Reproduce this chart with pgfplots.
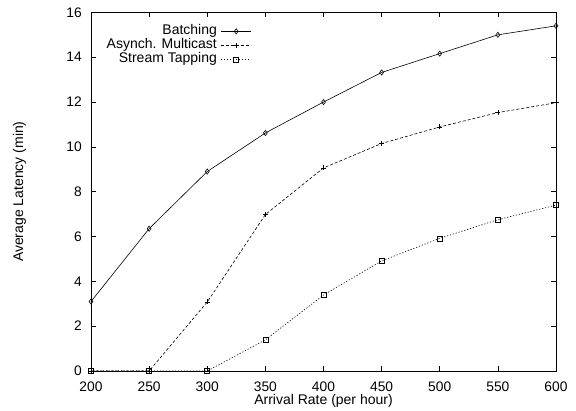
\documentclass[border=0pt]{standalone}
\usepackage{fontspec}
\setmainfont{Liberation Sans}
\usepackage{pgfplots}
\pgfplotsset{compat=1.18}
\begin{document}
\begin{tikzpicture}
\begin{axis}[
  scale only axis, width=465bp, height=358.6bp,
  xmin=200, xmax=600, ymin=0, ymax=16,
  xtick={200,250,...,600}, ytick={0,2,...,16},
  tick align=inside, major tick length=5bp,
  axis line style={line width=0.8pt},
  every tick/.style={line width=0.6pt, black},
  /pgf/number format/assume math mode=true,
  tick label style={font=\fontsize{13.8bp}{16bp}\selectfont},
  xticklabel style={anchor=base, yshift=-20bp, inner sep=0pt},
  yticklabel style={anchor=east, inner sep=0pt, xshift=-9bp},
  label style={font=\fontsize{14bp}{16bp}\selectfont},
  xlabel={Arrival Rate (per hour)},
  ylabel={Average Latency (min)},
  xlabel style={at={(axis description cs:0.5,-0.0929)}, anchor=base},
  ylabel style={at={(axis description cs:-0.1462,0.5)}, anchor=base},
  clip=false,
  legend style={draw=none, fill=none, at={(axis description cs:0.3456,0.9675)}, anchor=north east,
    font=\fontsize{14bp}{16bp}\selectfont, inner sep=0pt, row sep=0pt, column sep=4bp,
    nodes={inner sep=0pt, text height=9.8bp, text depth=4.4bp}},
  legend cell align=right, legend plot pos=right,
  legend image code/.code={\draw[mark repeat=2,mark phase=2] plot coordinates {(0bp,0bp)(15bp,0bp)(30bp,0bp)};},
]
\addplot[black, line width=0.6pt, mark=diamond, mark size=2.6bp, mark options={solid}] coordinates {
(200,3.1) (250,6.35) (300,8.9) (350,10.62) (400,12.0) (450,13.32) (500,14.16) (550,15.0) (600,15.4)};
\addlegendentry{Batching}
\addplot[black, line width=0.6pt, dash pattern=on 3bp off 2bp, mark=+, mark size=2.5bp, mark options={solid}] coordinates {
(200,0) (250,0) (300,3.08) (350,6.98) (400,9.06) (450,10.15) (500,10.89) (550,11.53) (600,11.97)};
\addlegendentry{Asynch. Multicast}
\addplot[black, line width=0.6pt, dash pattern=on 1.2bp off 1.8bp, mark=square, mark size=2.5bp, mark options={solid}] coordinates {
(200,0) (250,0) (300,0) (350,1.39) (400,3.39) (450,4.91) (500,5.92) (550,6.75) (600,7.4)};
\addlegendentry{Stream Tapping}
\end{axis}
\pgfresetboundingbox
\path (-91bp,-40bp) rectangle (485bp,371bp);
\end{tikzpicture}
\end{document}
